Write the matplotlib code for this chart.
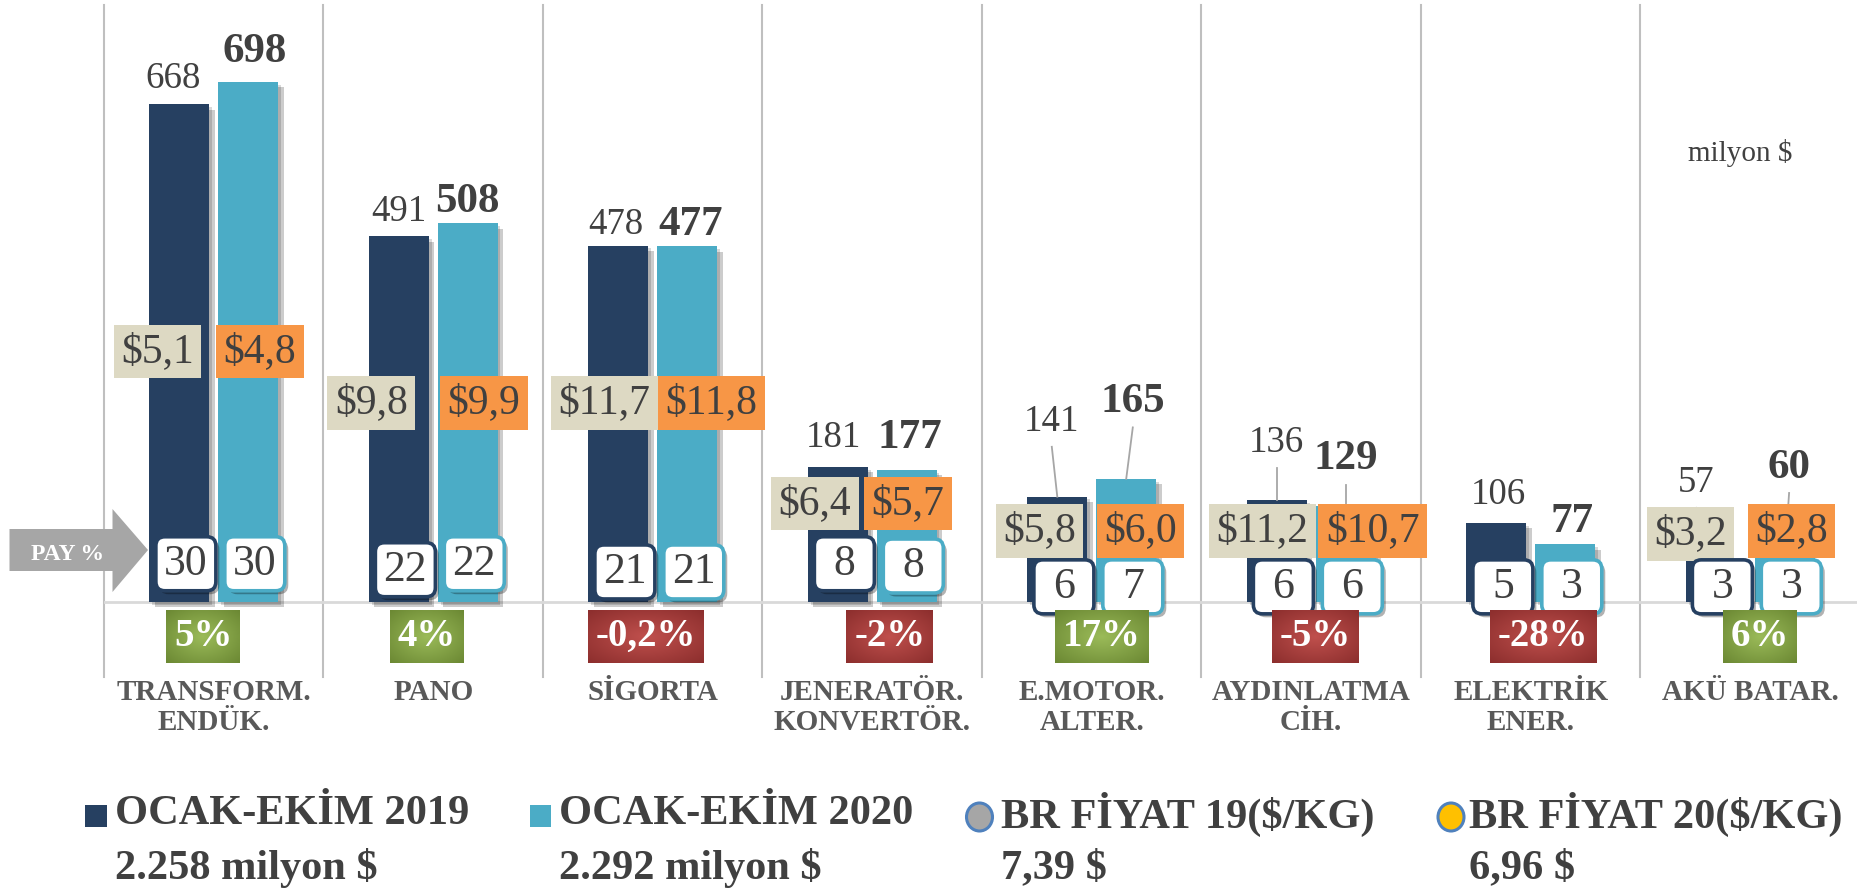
import numpy as np
import matplotlib
matplotlib.use("Agg")
import matplotlib.pyplot as plt
import matplotlib.transforms as mtransforms
import matplotlib.patheffects as pe
from matplotlib.patches import FancyBboxPatch, Polygon, Rectangle, Ellipse

# ---------------- data ----------------
categories = ["TRANSFORM.\nENDÜK.", "PANO", "SİGORTA", "JENERATÖR.\nKONVERTÖR.",
              "E.MOTOR.\nALTER.", "AYDINLATMA\nCİH.", "ELEKTRİK\nENER.", "AKÜ BATAR."]
exports_2019 = [668, 491, 478, 181, 141, 136, 106, 57]
exports_2020 = [698, 508, 477, 177, 165, 129, 77, 60]
share_2019 = [30, 22, 21, 8, 6, 6, 5, 3]
share_2020 = [30, 22, 21, 8, 7, 6, 3, 3]
price_2019 = [5.1, 9.8, 11.7, 6.4, 5.8, 11.2, None, 3.2]
price_2020 = [4.8, 9.9, 11.8, 5.7, 6.0, 10.7, None, 2.8]
change_pct = ["5%", "4%", "-0,2%", "-2%", "17%", "-5%", "-28%", "6%"]
legend_labels = ["OCAK-EKİM 2019", "OCAK-EKİM 2020", "BR FİYAT 19($/KG)", "BR FİYAT 20($/KG)"]
legend_totals = ["2.258 milyon $", "2.292 milyon $", "7,39 $", "6,96 $"]
unit_label = "milyon $"
pay_label = "PAY %"

# ---------------- layout (label placement) ----------------
lab19_dx = [-0.03, 0.0, -0.01, -0.02, -0.025, 0.0, 0.01, -0.09]
lab19_dy = [34, 32, 28, 39, 101, 77, 38, 103]
lab20_dx = [0.03, 0.0, 0.014, 0.016, 0.03, 0.0, 0.03, 0.02]
lab20_dy = [40, 29, 29, 43, 103, 62, 30, 120]
leader = [False, False, False, False, True, True, False, True]
price19_dx = [-0.256, -0.282, -0.219, -0.262, -0.238, -0.224, 0, -0.273]
price20_dx = [0.211, 0.232, 0.268, 0.162, 0.222, 0.28, 0, 0.188]
price19_y = [336, 267, 267, 132, 95, 95, 0, 91]
price20_y = [336, 267, 267, 132, 95, 95, 0, 95]
pay19_y = [51, 43, 40, 51, 20, 20, 20, 20]
pay20_y = [51, 51, 40, 48, 20, 20, 20, 20]
pct_dx = [-0.047, -0.03, -0.032, 0.08, 0.046, 0.02, 0.057, 0.043]
pct_y = -47

C19 = "#264061"
C20 = "#4bacc6"
BEIGE = "#ddd9c3"
ORANGE = "#f79646"
TXT = "#404040"
SERIF = "Liberation Serif"

W, H = 1858, 889
fig = plt.figure(figsize=(W / 100, H / 100), dpi=100)
fig.patch.set_facecolor("white")
ax = fig.add_axes([104 / W, (H - 677) / H, (W - 104) / W, 672 / H])
XMAX = -0.5 + (W - 104) / 219.5
ax.set_xlim(-0.5, XMAX)
ax.set_ylim(-101, 801)
ax.axis("off")

x = np.arange(len(categories))
off, bw = 0.157, 0.273

# grid lines
for k in range(len(categories)):
    ax.plot([k - 0.5, k - 0.5], [-101, 801], color="#bfbfbf", lw=1.5, zorder=0.5, clip_on=False)
ax.plot([-0.5, XMAX], [0, 0], color="#d9d9d9", lw=2, zorder=1)

shadow = [pe.SimplePatchShadow(offset=(4, -4), shadow_rgbFace="black", alpha=0.2),
          pe.SimplePatchShadow(offset=(2, -2), shadow_rgbFace="black", alpha=0.15), pe.Normal()]
b1 = ax.bar(x - off, exports_2019, width=bw, color=C19, zorder=2)
b2 = ax.bar(x + off, exports_2020, width=bw, color=C20, zorder=2)
for r in list(b1) + list(b2):
    r.set_path_effects(shadow)

# value labels
for i in range(len(categories)):
    for vals, dxs, dys, sgn, bold in ((exports_2019, lab19_dx, lab19_dy, -1, False),
                                      (exports_2020, lab20_dx, lab20_dy, 1, True)):
        bx = x[i] + sgn * off
        lx, ly = bx + dxs[i], vals[i] + dys[i]
        ax.text(lx, ly, f"{vals[i]}", ha="center", va="center", family=SERIF,
                fontsize=31 if bold else 26.5, fontweight="bold" if bold else "normal",
                color=TXT, zorder=3)
        if leader[i]:
            ax.plot([bx, lx], [vals[i], ly - 34], color="#a6a6a6", lw=1.3, zorder=2.5)

# price boxes
def fmt_price(v):
    return ("$%.1f" % v).replace(".", ",")

for i in range(len(categories)):
    if price_2019[i] is not None:
        ax.text(x[i] + price19_dx[i], price19_y[i], fmt_price(price_2019[i]), ha="center", va="center",
                family=SERIF, fontsize=30, color=TXT, zorder=4,
                bbox=dict(boxstyle="square,pad=0.18", fc=BEIGE, ec="none"))
    if price_2020[i] is not None:
        ax.text(x[i] + price20_dx[i], price20_y[i], fmt_price(price_2020[i]), ha="center", va="center",
                family=SERIF, fontsize=30, color=TXT, zorder=4,
                bbox=dict(boxstyle="square,pad=0.18", fc=ORANGE, ec="none"))

# share (PAY %) boxes
bshadow = [pe.SimplePatchShadow(offset=(2.5, -2.5), shadow_rgbFace="black", alpha=0.3), pe.Normal()]
for i in range(len(categories)):
    for val, yy, sgn, ec in ((share_2019[i], pay19_y[i], -1, C19), (share_2020[i], pay20_y[i], 1, C20)):
        cx = x[i] + sgn * off + 0.03
        tr = mtransforms.ScaledTranslation(cx, yy, ax.transData)
        p = FancyBboxPatch((-30, -27), 60, 54, boxstyle="round,pad=0,rounding_size=9",
                           fc="white", ec=ec, lw=2.6, transform=tr, zorder=5)
        p.set_path_effects(bshadow)
        ax.add_patch(p)
        ax.text(cx, yy, f"{val}", ha="center", va="center", family=SERIF, fontsize=31.5,
                color=TXT, zorder=6)

# percent change boxes
pct_texts = []
for i in range(len(categories)):
    t = ax.text(x[i] + pct_dx[i], pct_y, change_pct[i], ha="center", va="center", family=SERIF,
                fontsize=28, fontweight="bold", color="white", zorder=6,
                bbox=dict(boxstyle="square,pad=0.2", fc="none", ec="none"))
    pct_texts.append(t)

# category labels
for i, c in enumerate(categories):
    ax.text(x[i], -104, c, ha="center", va="top", family=SERIF, fontsize=21, fontweight="bold",
            color="#595959", linespacing=1.12, zorder=3, clip_on=False)

# PAY % arrow (figure pixels, y from top)
def P(px, py):
    return (px, H - py)

arrow_pts = [P(9.5, 529), P(112.5, 529), P(112.5, 509), P(148, 550), P(112.5, 592), P(112.5, 571), P(9.5, 571)]
ax.add_patch(Polygon(arrow_pts, closed=True, fc="#a6a6a6", ec="none",
                     transform=mtransforms.IdentityTransform(), clip_on=False, zorder=4.5))
fig.text(68 / W, 1 - 554 / H, pay_label, ha="center", va="center", family=SERIF, fontsize=17,
         fontweight="bold", color="white", zorder=10)

# unit label
fig.text(1740 / W, 1 - 153 / H, unit_label, ha="center", va="center", family=SERIF, fontsize=21,
         color=TXT)

# legend
leg_text_x = [115, 559, 1001, 1469]
row1_y, row2_y = 814, 868
ident = mtransforms.IdentityTransform()
fig.add_artist(Rectangle(P(85, 827), 22, 22, fc=C19, ec="none", transform=ident))
fig.add_artist(Rectangle(P(530, 827), 21, 22, fc=C20, ec="none", transform=ident))
fig.add_artist(Ellipse(P(979.5, 817), 26, 28, fc="#a6a6a6", ec="#4f81bd", lw=2.2, transform=ident))
fig.add_artist(Ellipse(P(1451, 817), 26, 28, fc="#ffc000", ec="#4f81bd", lw=2.2, transform=ident))
for lx, l1, l2 in zip(leg_text_x, legend_labels, legend_totals):
    fig.text(lx / W, 1 - row1_y / H, l1, ha="left", va="center", family=SERIF, fontsize=30.5,
             fontweight="bold", color=TXT)
    fig.text(lx / W, 1 - row2_y / H, l2, ha="left", va="center", family=SERIF, fontsize=30.5,
             fontweight="bold", color=TXT)

# gradient fills for percent boxes
fig.canvas.draw()
renderer = fig.canvas.get_renderer()
gy, gx = np.mgrid[0:1:60j, 0:1:120j]
rr = np.clip(np.sqrt(((gx - 0.5) / 0.5) ** 2 + ((gy - 0.5) / 0.5) ** 2) / np.sqrt(2), 0, 1)[..., None]
green_c, green_e = np.array([0x9b, 0xbb, 0x59]) / 255, np.array([0x6b, 0x88, 0x33]) / 255
red_c, red_e = np.array([0xc0, 0x50, 0x4d]) / 255, np.array([0x8c, 0x2e, 0x2d]) / 255
for t, s in zip(pct_texts, change_pct):
    bb = t.get_bbox_patch().get_window_extent(renderer)
    (x0, y0), (x1, y1) = ax.transData.inverted().transform([[bb.x0, bb.y0], [bb.x1, bb.y1]])
    cc, ce = (red_c, red_e) if s.startswith("-") else (green_c, green_e)
    img = cc * (1 - rr) + ce * rr
    ax.imshow(img, extent=[x0, x1, y0, y1], aspect="auto", zorder=5.5, interpolation="bilinear")
ax.set_xlim(-0.5, XMAX)
ax.set_ylim(-101, 801)
ax.set_aspect("auto")

fig.savefig("out.png", dpi=100, facecolor="white")
